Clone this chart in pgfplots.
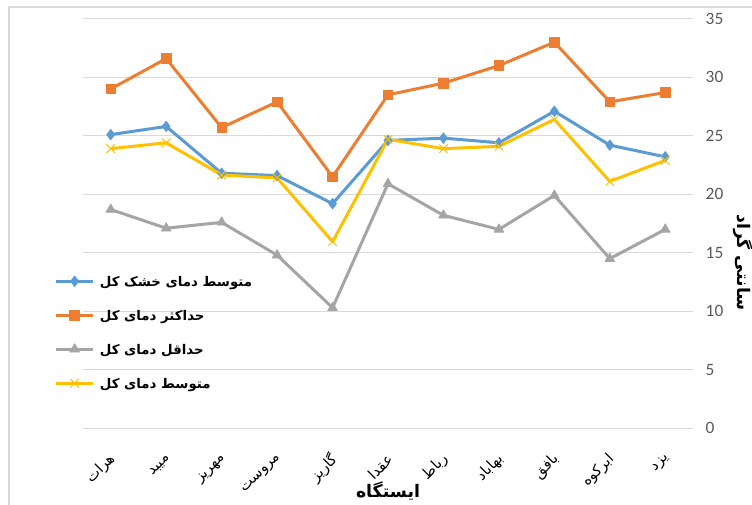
\documentclass[border=0pt]{standalone}
\usepackage{pgfplots}
\pgfplotsset{compat=1.18}
\usetikzlibrary{calc}
\usepackage{fontspec}
\setmainfont{Carlito}
\newfontfamily\ar[Script=Arabic]{DejaVu Sans}
\TeXXeTstate=1
\definecolor{cblue}{HTML}{5B9BD5}
\definecolor{corange}{HTML}{ED7D31}
\definecolor{cgray}{HTML}{A5A5A5}
\definecolor{cyellow}{HTML}{FFC000}
\definecolor{gridc}{HTML}{D9D9D9}
\definecolor{tickc}{HTML}{595959}
\newcommand{\R}[1]{{\ar\beginR #1\endR}}
\newcommand{\LG}[1]{\rule[-4pt]{0pt}{14pt}\hspace{2pt}{\ar\bfseries\beginR #1\endR}}
\begin{document}
\begin{tikzpicture}
\begin{axis}[
  name=ax,
  scale only axis,
  width=457.5pt, height=307.1pt,
  xmin=-0.5, xmax=10.5,
  ymin=0, ymax=35,
  ytick={0,5,...,35},
  xtick={0,1,...,10},
  xticklabels={{\R{هرات}},{\R{میبد}},{\R{مهریز}},{\R{مروست}},{\R{گاریز}},{\R{عقدا}},{\R{رباط}},{\R{بهاباد}},{\R{بافق}},{\R{ابرکوه}},{\R{یزد}}},
  xticklabel style={font=\fontsize{11pt}{13pt}\selectfont, xshift=4pt, rotate=45, anchor=east, text=black},
  xticklabel shift=19pt,
  yticklabel pos=right,
  yticklabel style={font=\fontsize{13pt}{15pt}\selectfont, text=tickc, anchor=west},
  yticklabel shift=6pt,
  /pgf/number format/assume math mode=true,
  axis line style={draw=none},
  major tick length=0pt,
  ymajorgrids, grid style={gridc, line width=0.75pt},
  xlabel={\ar\bfseries\beginR ایستگاه\endR},
  ylabel={\ar\bfseries\beginR سانتی گراد\endR},
  every axis x label/.style={at={(axis description cs:0.5,-0.153)}, anchor=center, font=\fontsize{13pt}{15pt}\selectfont},
  every axis y label/.style={at={(axis description cs:1.082,0.405)}, anchor=center, rotate=-90, font=\fontsize{13pt}{15pt}\selectfont},
  legend style={at={(axis description cs:-0.047,0.385)}, anchor=north west, draw=none, fill=none, inner sep=0pt, row sep=10pt, font=\fontsize{10pt}{13pt}\selectfont, cells={anchor=west}},
  legend cell align=left,
  legend image code/.code={\draw[mark repeat=2,mark phase=2] plot coordinates {(0pt,0pt) (13.9pt,0pt) (27.75pt,0pt)};},
  every axis plot/.append style={line width=2.25pt, line join=round},
]
\coordinate (NW) at (rel axis cs:0,1);
\addplot[cblue, mark=diamond*, mark size=4pt, mark options={line width=0.5pt}] coordinates {
(0,25.1) (1,25.8) (2,21.8) (3,21.6) (4,19.2) (5,24.6) (6,24.8) (7,24.4) (8,27.1) (9,24.2) (10,23.2)};
\addlegendentry{\LG{متوسط دمای خشک کل}}
\addplot[corange, mark=square*, mark size=3.6pt, mark options={line width=0.5pt}] coordinates {
(0,29.0) (1,31.6) (2,25.7) (3,27.9) (4,21.5) (5,28.5) (6,29.5) (7,31.0) (8,33.0) (9,27.9) (10,28.7)};
\addlegendentry{\LG{حداکثر دمای کل}}
\addplot[cgray, mark=triangle*, mark size=4.2pt, mark options={line width=0.5pt}] coordinates {
(0,18.7) (1,17.1) (2,17.6) (3,14.8) (4,10.3) (5,20.9) (6,18.2) (7,17.0) (8,19.9) (9,14.5) (10,17.0)};
\addlegendentry{\LG{حداقل دمای کل}}
\addplot[cyellow, mark=x, mark size=4.5pt, mark options={line width=0.75pt}] coordinates {
(0,23.9) (1,24.4) (2,21.65) (3,21.4) (4,15.95) (5,24.7) (6,23.9) (7,24.1) (8,26.4) (9,21.1) (10,22.9)};
\addlegendentry{\LG{متوسط دمای کل}}
\end{axis}
\pgfresetboundingbox
\path[use as bounding box] ($(NW)+(-62.25pt,14.1pt)$) rectangle ++(564pt,-378pt);
\draw[gridc, line width=1pt] ($(NW)+(-55.5pt,8.85pt)$) rectangle ++(620pt,-420pt);
\end{tikzpicture}
\end{document}
